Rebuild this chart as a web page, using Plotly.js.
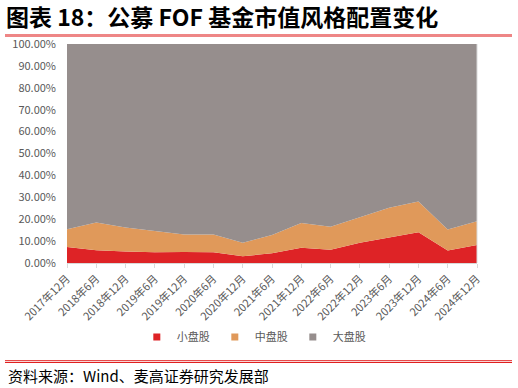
<!DOCTYPE html>
<html><head><meta charset="utf-8">
<script src="https://cdn.plot.ly/plotly-3.0.1.min.js"></script>
<style>html,body{margin:0;padding:0;background:#fff;}#chart{width:518px;height:388px;}</style>
</head><body><div id="chart"></div>
<script>
const categories = ["2017年12月","2018年6月","2018年12月","2019年6月","2019年12月","2020年6月","2020年12月","2021年6月","2021年12月","2022年6月","2022年12月","2023年6月","2023年12月","2024年6月","2024年12月"];
const smallCap = [7.3,5.8,5.2,4.9,5.0,4.9,3.1,4.4,7.0,6.0,9.2,11.6,14.0,5.7,8.2];
const midCap   = [8.1,12.7,11.0,9.6,8.0,8.1,6.1,8.4,11.3,10.5,11.5,13.6,14.1,9.6,10.9];
const largeCap = smallCap.map((s,i)=> +(100 - s - midCap[i]).toFixed(1));
const seriesNames = ["小盘股","中盘股","大盘股"];
const colors = ["#de2326","#e0995a","#968e8d"];
const yTickVals = [0,10,20,30,40,50,60,70,80,90,100];
const yTickText = ["0.00%","10.00%","20.00%","30.00%","40.00%","50.00%","60.00%","70.00%","80.00%","90.00%","100.00%"];

const font = "Noto Sans CJK SC, sans-serif";
const seriesData = [smallCap, midCap, largeCap];
const traces = [];
seriesData.forEach((vals,i)=>{
  traces.push({type:"scatter", mode:"lines", x:categories, y:vals, stackgroup:"one",
    line:{width:0, color:colors[i]}, fillcolor:colors[i], showlegend:false, hoverinfo:"skip"});
});
seriesData.forEach((vals,i)=>{
  traces.push({type:"scatter", mode:"markers", x:[null], y:[null], name:seriesNames[i],
    marker:{symbol:"square", size:7, color:colors[i]}, showlegend:true});
});

const L=67, R=41, T=44, B=125, W=518-L-R, H=388-T-B;
const px = v => (v-L)/W, py = v => (388-B-v)/H;

const layout = {
  width:518, height:388,
  margin:{l:L, r:R, t:T, b:B, pad:0, autoexpand:false},
  paper_bgcolor:"#fff", plot_bgcolor:"#fff",
  font:{family:font, color:"#595959", size:11},
  title:{text:"图表 18：公募 FOF 基金市值风格配置变化", xref:"container", yref:"container",
    x:6/518, xanchor:"left", y:1-18/388, yanchor:"middle",
    font:{family:font, size:23, color:"#000", weight:"bold"}},
  xaxis:{type:"category", range:[0,14], showgrid:false, zeroline:false, automargin:false,
    showline:true, linecolor:"#d9d9d9", linewidth:1,
    ticks:"outside", ticklen:4, tickcolor:"#d9d9d9", tickangle:-45,
    tickfont:{size:11, color:"#595959"}},
  yaxis:{range:[0,100], tickvals:yTickVals, ticktext:yTickText, showgrid:false, zeroline:false, automargin:false,
    showline:false, ticks:"", ticklabelstandoff:10, tickfont:{size:11, color:"#595959"}},
  legend:{orientation:"h", xref:"container", x:0.49, xanchor:"center", yref:"container", y:1-337/388, yanchor:"middle",
    traceorder:"normal", font:{size:11, color:"#595959"}, itemwidth:30},
  shapes:[
    {type:"line", xref:"paper", yref:"paper", x0:px(5), x1:px(512), y0:py(35.5), y1:py(35.5), line:{color:"#ee8686", width:3}},
    {type:"line", xref:"paper", yref:"paper", x0:px(5), x1:px(512), y0:py(360.7), y1:py(360.7), line:{color:"#e02020", width:1}},
    {type:"line", xref:"paper", yref:"paper", x0:px(5), x1:px(512), y0:py(362.5), y1:py(362.5), line:{color:"#e02020", width:1}},
    {type:"line", xref:"paper", yref:"paper", x0:1, x1:1, y0:0, y1:1, line:{color:"#d9d9d9", width:1}}
  ],
  annotations:[
    {text:"资料来源：Wind、麦高证券研究发展部", xref:"paper", yref:"paper", x:px(6), y:py(375),
     xanchor:"left", yanchor:"middle", showarrow:false, font:{family:font, size:15, color:"#000"}}
  ]
};
Plotly.newPlot("chart", traces, layout, {staticPlot:true, displayModeBar:false});
</script></body></html>
